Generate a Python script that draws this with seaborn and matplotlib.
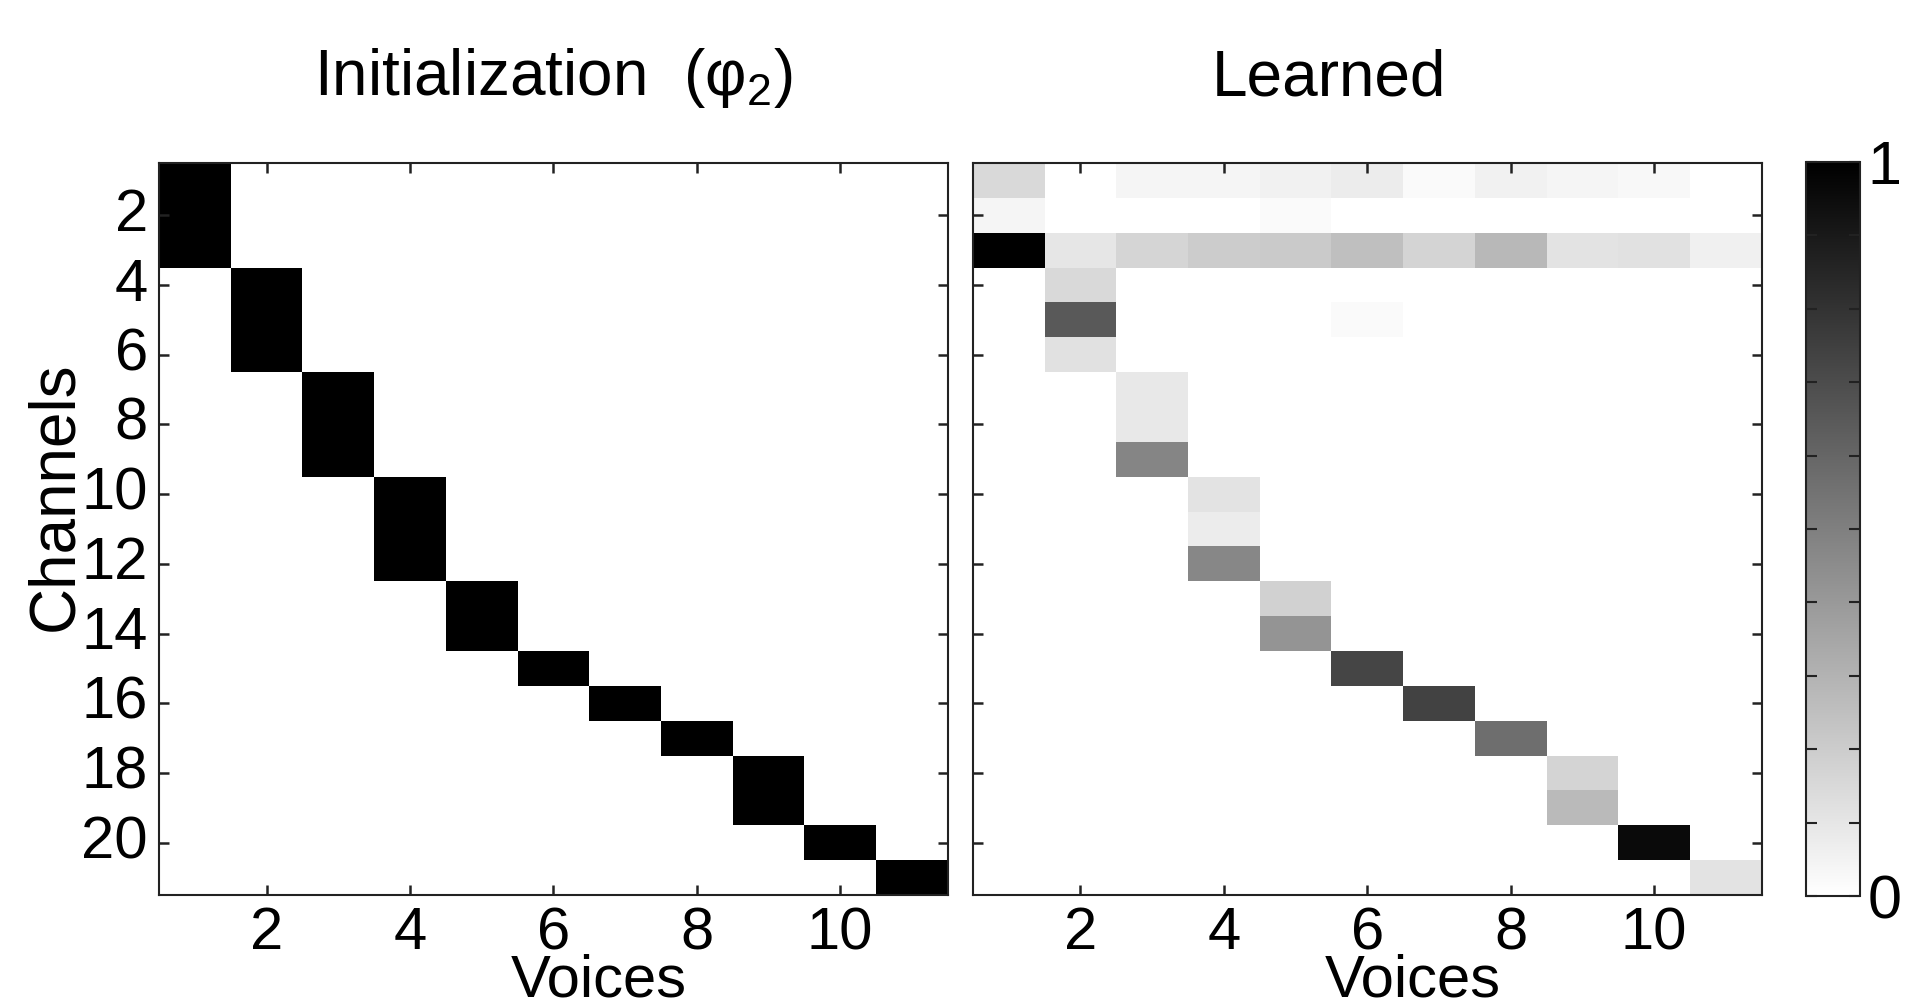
import numpy as np
import pandas as pd
import matplotlib
matplotlib.use("Agg")
import matplotlib.pyplot as plt
import seaborn as sns

# Daten
voices = list(range(1, 12))
channels = list(range(1, 22))
voice_ticks = [2, 4, 6, 8, 10]
channel_ticks = [2, 4, 6, 8, 10, 12, 14, 16, 18, 20]

# Initialisierung: welcher Voice gehoert zu welchem Channel
init_voice_of_channel = [1, 1, 1, 2, 2, 2, 3, 3, 3, 4, 4, 4, 5, 5, 6, 7, 8, 9, 9, 10, 11]

# gelernte Gewichte (aus dem Bild geschaetzt), Zeilen = Channels, Spalten = Voices
learned = [
    [0.15, 0.00, 0.04, 0.04, 0.055, 0.075, 0.02, 0.055, 0.04, 0.03, 0.00],
    [0.04, 0.00, 0.00, 0.00, 0.02, 0.00, 0.00, 0.00, 0.00, 0.00, 0.00],
    [1.00, 0.10, 0.165, 0.20, 0.21, 0.25, 0.17, 0.28, 0.11, 0.12, 0.06],
    [0.00, 0.15, 0.00, 0.00, 0.00, 0.00, 0.00, 0.00, 0.00, 0.00, 0.00],
    [0.00, 0.65, 0.00, 0.00, 0.00, 0.02, 0.00, 0.00, 0.00, 0.00, 0.00],
    [0.00, 0.12, 0.00, 0.00, 0.00, 0.00, 0.00, 0.00, 0.00, 0.00, 0.00],
    [0.00, 0.00, 0.09, 0.00, 0.00, 0.00, 0.00, 0.00, 0.00, 0.00, 0.00],
    [0.00, 0.00, 0.09, 0.00, 0.00, 0.00, 0.00, 0.00, 0.00, 0.00, 0.00],
    [0.00, 0.00, 0.48, 0.00, 0.00, 0.00, 0.00, 0.00, 0.00, 0.00, 0.00],
    [0.00, 0.00, 0.00, 0.11, 0.00, 0.00, 0.00, 0.00, 0.00, 0.00, 0.00],
    [0.00, 0.00, 0.00, 0.075, 0.00, 0.00, 0.00, 0.00, 0.00, 0.00, 0.00],
    [0.00, 0.00, 0.00, 0.47, 0.00, 0.00, 0.00, 0.00, 0.00, 0.00, 0.00],
    [0.00, 0.00, 0.00, 0.00, 0.18, 0.00, 0.00, 0.00, 0.00, 0.00, 0.00],
    [0.00, 0.00, 0.00, 0.00, 0.42, 0.00, 0.00, 0.00, 0.00, 0.00, 0.00],
    [0.00, 0.00, 0.00, 0.00, 0.00, 0.73, 0.00, 0.00, 0.00, 0.00, 0.00],
    [0.00, 0.00, 0.00, 0.00, 0.00, 0.00, 0.74, 0.00, 0.00, 0.00, 0.00],
    [0.00, 0.00, 0.00, 0.00, 0.00, 0.00, 0.00, 0.57, 0.00, 0.00, 0.00],
    [0.00, 0.00, 0.00, 0.00, 0.00, 0.00, 0.00, 0.00, 0.17, 0.00, 0.00],
    [0.00, 0.00, 0.00, 0.00, 0.00, 0.00, 0.00, 0.00, 0.27, 0.00, 0.00],
    [0.00, 0.00, 0.00, 0.00, 0.00, 0.00, 0.00, 0.00, 0.00, 0.96, 0.00],
    [0.00, 0.00, 0.00, 0.00, 0.00, 0.00, 0.00, 0.00, 0.00, 0.00, 0.11],
]

sns.set_style("ticks")
plt.rcParams["font.family"] = ["Liberation Sans", "DejaVu Sans"]
plt.rcParams["mathtext.fontset"] = "custom"
plt.rcParams["mathtext.rm"] = "Liberation Sans"
plt.rcParams["mathtext.it"] = "Liberation Sans:italic"
plt.rcParams["axes.axisbelow"] = False
for key in ["text.color", "axes.labelcolor", "xtick.color", "ytick.color", "axes.edgecolor"]:
    plt.rcParams[key] = "black"

init = pd.DataFrame(0.0, index=channels, columns=voices)
for ch, v in zip(channels, init_voice_of_channel):
    init.loc[ch, v] = 1.0
learned_df = pd.DataFrame(learned, index=channels, columns=voices)

fig = plt.figure(figsize=(19.19, 10.06), dpi=100)
ax1 = fig.add_axes([0.0829, 0.1103, 0.411, 0.7276])
ax2 = fig.add_axes([0.507, 0.1103, 0.411, 0.7276])
cax = fig.add_axes([0.941, 0.1093, 0.028, 0.7296])

for ax, df in [(ax1, init), (ax2, learned_df)]:
    sns.heatmap(df, ax=ax, cmap="gray_r", vmin=0, vmax=1, cbar=False)
    ax.set_axisbelow(False)
    ax.set_xticks([v - 0.5 for v in voice_ticks])
    ax.set_xticklabels([str(v) for v in voice_ticks], rotation=0)
    ax.set_yticks([c - 0.5 for c in channel_ticks])
    ax.set_yticklabels([str(c) for c in channel_ticks], rotation=0)
    for sp in ax.spines.values():
        sp.set_visible(True)
        sp.set_linewidth(1.5)
        sp.set_color("#222222")
    ax.tick_params(direction="in", length=7, width=1.8, color="#222222",
                   top=True, right=True, bottom=True, left=True,
                   labelsize=43, pad=8)
    ax.set_xlabel("Voices", fontsize=43)
    ax.xaxis.set_label_coords(0.558, -0.08)

ax2.tick_params(labelleft=False)
ax1.set_ylabel("Channels", fontsize=46)
ax1.yaxis.set_label_coords(-0.093, 0.545)

ax1.set_title("Initialization  (φ$_2$)", fontsize=46, pad=49)
ax2.set_title("Learned", fontsize=46, pad=49, x=0.452)

cb = fig.colorbar(ax2.collections[0], cax=cax)
cb.outline.set_linewidth(1.5)
cb.outline.set_edgecolor("#222222")
cb.set_ticks(np.linspace(0, 1, 11))
cb.set_ticklabels(["0"] + [""] * 9 + ["1"])
cax.set_axisbelow(False)
cax.tick_params(direction="in", left=True, right=True, length=8, width=1.5,
                color="#222222", labelsize=44, pad=6)

fig.savefig("out.png", dpi=100)
